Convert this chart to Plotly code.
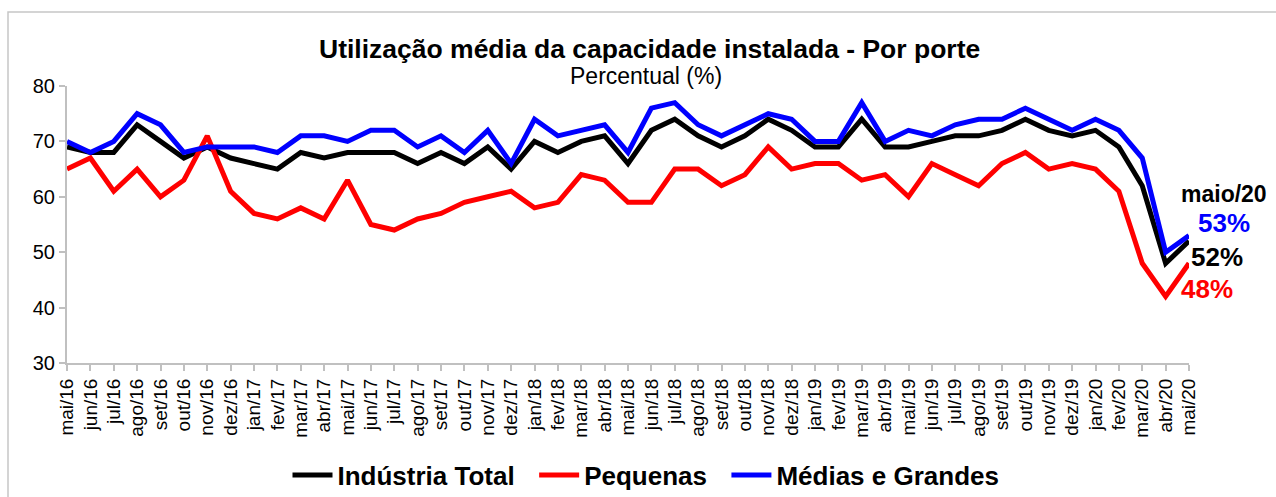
import plotly.graph_objects as go

months = ["mai/16","jun/16","jul/16","ago/16","set/16","out/16","nov/16","dez/16",
          "jan/17","fev/17","mar/17","abr/17","mai/17","jun/17","jul/17","ago/17",
          "set/17","out/17","nov/17","dez/17","jan/18","fev/18","mar/18","abr/18",
          "mai/18","jun/18","jul/18","ago/18","set/18","out/18","nov/18","dez/18",
          "jan/19","fev/19","mar/19","abr/19","mai/19","jun/19","jul/19","ago/19",
          "set/19","out/19","nov/19","dez/19","jan/20","fev/20","mar/20","abr/20","mai/20"]

industria_total = [69,68,68,73,70,67,69,67,66,65,68,67,68,68,68,66,68,66,69,65,70,68,70,71,
                   66,72,74,71,69,71,74,72,69,69,74,69,69,70,71,71,72,74,72,71,72,69,62,48,52]
pequenas = [65,67,61,65,60,63,71,61,57,56,58,56,63,55,54,56,57,59,60,61,58,59,64,63,
            59,59,65,65,62,64,69,65,66,66,63,64,60,66,64,62,66,68,65,66,65,61,48,42,48]
medias_grandes = [70,68,70,75,73,68,69,69,69,68,71,71,70,72,72,69,71,68,72,66,74,71,72,73,
                  68,76,77,73,71,73,75,74,70,70,77,70,72,71,73,74,74,76,74,72,74,72,67,50,53]

FONT = "Liberation Sans, Arial, sans-serif"
NB = "\u00a0"

fig = go.Figure()
for name, vals, col in [("Indústria Total" + NB * 2, industria_total, "#000000"),
                        ("Pequenas" + NB * 2, pequenas, "#ff0000"),
                        ("Médias e Grandes", medias_grandes, "#0000ff")]:
    fig.add_trace(go.Scatter(x=months, y=vals, mode="lines", name=name,
                             line=dict(color=col, width=5)))

L, R, T, B = 67, 87, 86, 134
W, H = 1276, 497
pw, ph = W - L - R, H - T - B

def px(x):
    return (x - L) / pw

def py(y):
    return (H - B - y) / ph

annotations = [
    dict(text="<b>Utilização média da capacidade instalada - Por porte</b>", x=px(649), y=py(49),
         font=dict(size=26.5, color="black", family=FONT)),
    dict(text="Percentual (%)", x=px(646), y=py(76),
         font=dict(size=23, color="black", family=FONT)),
    dict(text="<b>maio/20</b>", x=px(1224), y=py(194), font=dict(size=23, color="black", family=FONT)),
    dict(text="<b>53%</b>", x=px(1224), y=py(223), font=dict(size=26, color="#0000ff", family=FONT)),
    dict(text="<b>52%</b>", x=px(1217), y=py(257), font=dict(size=26, color="black", family=FONT)),
    dict(text="<b>48%</b>", x=px(1207), y=py(289), font=dict(size=26, color="#ff0000", family=FONT)),
]
for a in annotations:
    a.update(xref="paper", yref="paper", showarrow=False, xanchor="center", yanchor="middle")

fig.update_layout(
    width=W, height=H,
    margin=dict(l=L, r=R, t=T, b=B, autoexpand=False),
    paper_bgcolor="white", plot_bgcolor="white",
    font=dict(family=FONT, color="black"),
    showlegend=True,
    legend=dict(orientation="h", x=px(646), xanchor="center", y=py(475), yanchor="middle",
                font=dict(size=26, family=FONT, color="black", weight="bold"),
                itemwidth=40, tracegroupgap=0),
    annotations=annotations,
    shapes=[dict(type="rect", xref="paper", yref="paper",
                 x0=px(8), x1=px(1300), y0=py(12), y1=py(530),
                 line=dict(color="#c6c6c6", width=1.5), fillcolor="rgba(0,0,0,0)", layer="below")],
)
fig.update_xaxes(type="category", range=[0, len(months) - 1], showline=True, linecolor="#c0c0c0",
                 linewidth=2, ticks="outside", ticklen=6, tickcolor="#c0c0c0", tickwidth=1.5,
                 tickangle=-90, tickfont=dict(size=19, family=FONT, color="black"),
                 showgrid=False, zeroline=False)
fig.update_yaxes(range=[30, 80], dtick=10, showline=True, linecolor="#c0c0c0", linewidth=2,
                 ticks="outside", ticklen=6, tickcolor="#c0c0c0", tickwidth=1.5,
                 tickfont=dict(size=20, family=FONT, color="black"),
                 showgrid=False, zeroline=False)

fig.write_html("out.html", config={"displayModeBar": False},
               post_script="document.body.style.margin='0';")
